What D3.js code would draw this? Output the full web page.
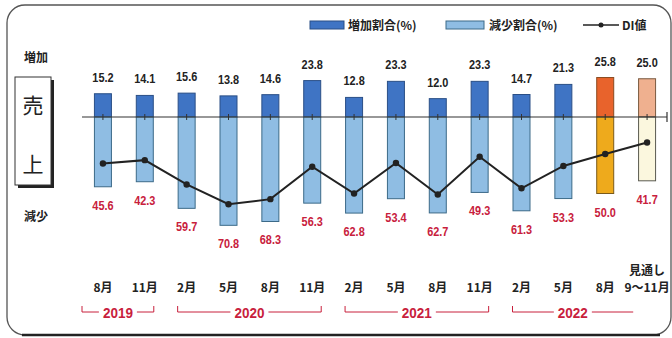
<!DOCTYPE html>
<html>
<head>
<meta charset="utf-8">
<script src="https://cdn.jsdelivr.net/npm/d3@7/dist/d3.min.js"></script>
<style>
  html, body { margin: 0; padding: 0; background: #fff; }
  svg { display: block; }
  .num { font-family: "Liberation Sans", Arial, sans-serif; font-weight: bold; }
  .jp { font-family: "Noto Sans CJK JP", "Noto Sans", sans-serif; }
</style>
</head>
<body>
<svg id="chart" width="672" height="338"></svg>
<script>
// Survey periods (quarter month) and the year groups they belong to
const months = ["8月", "11月", "2月", "5月", "8月", "11月", "2月", "5月", "8月", "11月", "2月", "5月", "8月", "9〜11月"];
const keys = months.map((m, i) => "p" + i);
const yearGroups = [
  { label: "2019", from: 0, to: 1 },
  { label: "2020", from: 2, to: 5 },
  { label: "2021", from: 6, to: 9 },
  { label: "2022", from: 10, to: 12 }
];

// 売上: share of firms reporting increase / decrease (%), and the DI value
const increase = [15.2, 14.1, 15.6, 13.8, 14.6, 23.8, 12.8, 23.3, 12.0, 23.3, 14.7, 21.3, 25.8, 25.0];
const decrease = [45.6, 42.3, 59.7, 70.8, 68.3, 56.3, 62.8, 53.4, 62.7, 49.3, 61.3, 53.3, 50.0, 41.7];
const di = [-30.4, -28.2, -44.1, -57.0, -53.7, -32.5, -50.0, -30.1, -50.7, -26.0, -46.6, -32.0, -24.2, -16.7];

// Bar colouring: regular survey, latest survey, outlook
const kind = ["n", "n", "n", "n", "n", "n", "n", "n", "n", "n", "n", "n", "latest", "outlook"];
const upFill = { n: "#3f74c4", latest: "#e8632c", outlook: "#efb08f" };
const upStroke = { n: "#2a4f86", latest: "#8a4a20", outlook: "#7a5a40" };
const downFill = { n: "#8fbde3", latest: "#eeaa1c", outlook: "#fbf7de" };
const downStroke = { n: "#3c6a88", latest: "#7a5a1a", outlook: "#5a5a50" };

const svg = d3.select("#chart");

// Rounded frame
svg.append("rect")
  .attr("x", 7).attr("y", 5).attr("width", 664).attr("height", 330)
  .attr("rx", 18).attr("ry", 18)
  .attr("fill", "none").attr("stroke", "#555").attr("stroke-width", 1.3);
svg.append("line")
  .attr("x1", 22).attr("x2", 660).attr("y1", 335).attr("y2", 335)
  .attr("stroke", "#222").attr("stroke-width", 2.6);

const x = d3.scaleBand().domain(keys).range([82, 668]);
const y = d3.scaleLinear().domain([-80, 40]).range([239.4, 55.8]); // 1.53 px per point
const cx = i => x(keys[i]) + x.bandwidth() / 2;
const barW = 17;

// Increase bars (above zero)
svg.append("g").selectAll("rect").data(increase).join("rect")
  .attr("x", (d, i) => cx(i) - barW / 2)
  .attr("y", d => y(d))
  .attr("width", barW)
  .attr("height", d => y(0) - y(d))
  .attr("fill", (d, i) => upFill[kind[i]])
  .attr("stroke", (d, i) => upStroke[kind[i]])
  .attr("stroke-width", 1);

// Decrease bars (below zero)
svg.append("g").selectAll("rect").data(decrease).join("rect")
  .attr("x", (d, i) => cx(i) - barW / 2)
  .attr("y", y(0))
  .attr("width", barW)
  .attr("height", d => y(-d) - y(0))
  .attr("fill", (d, i) => downFill[kind[i]])
  .attr("stroke", (d, i) => downStroke[kind[i]])
  .attr("stroke-width", 1);

// Zero axis with small ticks at each period and an end tick
const axisG = svg.append("g");
axisG.append("line")
  .attr("x1", 82).attr("x2", 667).attr("y1", y(0)).attr("y2", y(0))
  .attr("stroke", "#333").attr("stroke-width", 1.2);
axisG.selectAll("line.t").data(keys).join("line").attr("class", "t")
  .attr("x1", (d, i) => cx(i)).attr("x2", (d, i) => cx(i))
  .attr("y1", y(0) - 3).attr("y2", y(0) + 3)
  .attr("stroke", "#333").attr("stroke-width", 1);
axisG.append("line")
  .attr("x1", 667).attr("x2", 667).attr("y1", y(0) - 5).attr("y2", y(0) + 5)
  .attr("stroke", "#333").attr("stroke-width", 1.2);

// Value labels, set in a condensed width
const narrow = (px, py) => `translate(${px},${py}) scale(0.84,1)`;
svg.append("g").selectAll("text").data(increase).join("text")
  .attr("class", "num")
  .attr("transform", (d, i) => narrow(cx(i), y(d) - 12))
  .attr("text-anchor", "middle").attr("font-size", 13).attr("fill", "#222")
  .text(d => d.toFixed(1));
svg.append("g").selectAll("text").data(decrease).join("text")
  .attr("class", "num")
  .attr("transform", (d, i) => narrow(cx(i), y(-d) + 23))
  .attr("text-anchor", "middle").attr("font-size", 13).attr("fill", "#c8203c")
  .text(d => d.toFixed(1));

// DI line
const line = d3.line().x((d, i) => cx(i)).y(d => y(d));
svg.append("path").datum(di)
  .attr("d", line).attr("fill", "none")
  .attr("stroke", "#222").attr("stroke-width", 2);
svg.append("g").selectAll("circle").data(di).join("circle")
  .attr("cx", (d, i) => cx(i)).attr("cy", d => y(d)).attr("r", 3.2)
  .attr("fill", "#222");

// Period labels
svg.append("g").selectAll("text").data(months).join("text")
  .attr("class", "jp")
  .attr("x", (d, i) => cx(i)).attr("y", 292)
  .attr("text-anchor", "middle").attr("font-size", 12).attr("font-weight", "bold")
  .attr("fill", "#222")
  .text(d => d);
svg.append("text").attr("class", "jp")
  .attr("x", cx(months.length - 1)).attr("y", 275)
  .attr("text-anchor", "middle").attr("font-size", 12).attr("font-weight", "bold")
  .attr("fill", "#222").text("見通し");

// Year brackets
const yb = 312;
yearGroups.forEach((g, gi) => {
  const last = gi === yearGroups.length - 1;
  const x0 = gi === 0 ? 82 : cx(g.from) - 9;
  const x1 = last ? cx(g.to) + 28 : cx(g.to) + 9;
  const mid = (x0 + x1) / 2;
  const grp = svg.append("g").attr("stroke", "#c8203c").attr("stroke-width", 1).attr("fill", "none");
  grp.append("line").attr("x1", x0).attr("x2", mid - 19).attr("y1", yb).attr("y2", yb);
  grp.append("line").attr("x1", mid + 19).attr("x2", x1).attr("y1", yb).attr("y2", yb);
  grp.append("line").attr("x1", x0).attr("x2", x0).attr("y1", yb - 6).attr("y2", yb);
  if (!last) grp.append("line").attr("x1", x1).attr("x2", x1).attr("y1", yb - 6).attr("y2", yb);
  svg.append("text").attr("class", "num")
    .attr("transform", `translate(${mid},${yb + 6}) scale(0.9,1)`)
    .attr("text-anchor", "middle").attr("font-size", 15).attr("font-weight", "normal")
    .attr("fill", "#c8203c").text(g.label);
});

// Left side caption: 増加 / 売上 box / 減少
svg.append("text").attr("class", "jp")
  .attr("x", 36).attr("y", 62).attr("text-anchor", "middle")
  .attr("font-size", 12).attr("font-weight", "bold").attr("fill", "#222").text("増加");
svg.append("text").attr("class", "jp")
  .attr("x", 36).attr("y", 221).attr("text-anchor", "middle")
  .attr("font-size", 12).attr("font-weight", "bold").attr("fill", "#222").text("減少");
svg.append("rect").attr("x", 18).attr("y", 80).attr("width", 36).attr("height", 108)
  .attr("fill", "#222");
svg.append("rect").attr("x", 15).attr("y", 77).attr("width", 36).attr("height", 108)
  .attr("fill", "#fff").attr("stroke", "#333").attr("stroke-width", 1);
svg.append("text").attr("class", "jp")
  .attr("x", 33).attr("y", 113).attr("text-anchor", "middle")
  .attr("font-size", 21).attr("fill", "#222").text("売");
svg.append("text").attr("class", "jp")
  .attr("x", 33).attr("y", 172).attr("text-anchor", "middle")
  .attr("font-size", 21).attr("fill", "#222").text("上");

// Legend
const lg = svg.append("g");
lg.append("rect").attr("x", 310).attr("y", 21).attr("width", 34).attr("height", 8)
  .attr("fill", "#3f74c4").attr("stroke", "#2a4f86");
lg.append("text").attr("class", "jp").attr("x", 348).attr("y", 30)
  .attr("font-size", 12).attr("font-weight", "bold").attr("fill", "#222").text("増加割合(%)");
lg.append("rect").attr("x", 446).attr("y", 21).attr("width", 38).attr("height", 8)
  .attr("fill", "#8fbde3").attr("stroke", "#3c6a88");
lg.append("text").attr("class", "jp").attr("x", 489).attr("y", 30)
  .attr("font-size", 12).attr("font-weight", "bold").attr("fill", "#222").text("減少割合(%)");
lg.append("line").attr("x1", 583).attr("x2", 619).attr("y1", 25).attr("y2", 25)
  .attr("stroke", "#222").attr("stroke-width", 1.6);
lg.append("circle").attr("cx", 601).attr("cy", 25).attr("r", 2.5).attr("fill", "#222");
lg.append("text").attr("class", "jp").attr("x", 622).attr("y", 30)
  .attr("font-size", 12).attr("font-weight", "bold").attr("fill", "#222").text("DI値");
</script>
</body>
</html>
